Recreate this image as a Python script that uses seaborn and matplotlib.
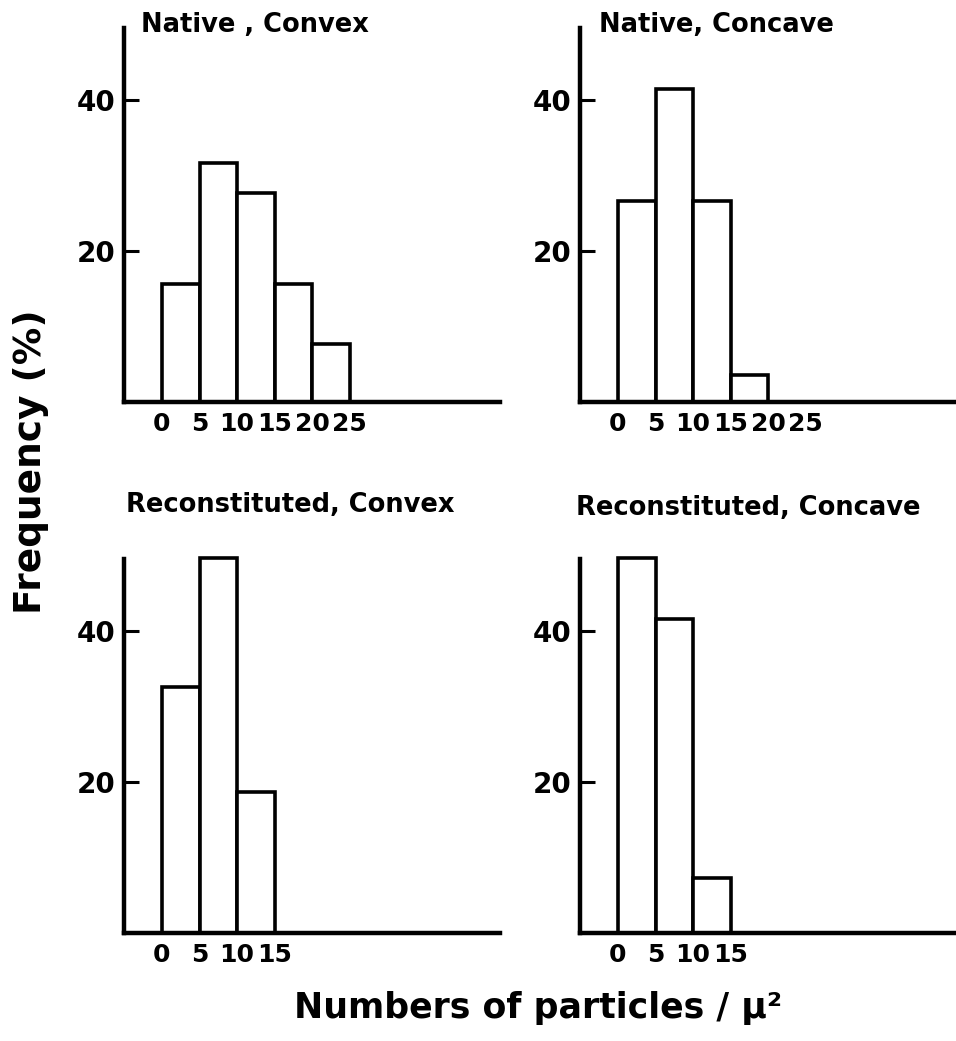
import numpy as np
import pandas as pd
import matplotlib
matplotlib.use("Agg")
import matplotlib.pyplot as plt
import seaborn as sns

# ---- data (percent frequency per bin of 5 particles/μ²) ----
native_ticks = [0, 5, 10, 15, 20, 25]
recon_ticks = [0, 5, 10, 15]

native_convex = [15.6, 31.6, 27.6, 15.6, 7.7]
native_concave = [26.6, 41.4, 26.6, 3.6]
recon_convex = [32.5, 49.6, 18.7]
recon_concave = [49.6, 41.6, 7.3]

titles = ["Native , Convex", "Native, Concave",
          "Reconstituted, Convex", "Reconstituted, Concave"]
y_ticks = [20, 40]
xlabel = "Numbers of particles / μ²"
ylabel = "Frequency (%)"

sns.set_theme(style="white")
plt.rcParams["font.family"] = ["DejaVu Sans"]
plt.rcParams["font.weight"] = "bold"

W, H = 956, 1041
fig = plt.figure(figsize=(W / 100, H / 100), dpi=100)
fig.patch.set_facecolor("white")

width = 375.75 / W
height = 374 / H
lefts = [123.75 / W, 579.75 / W]
bottoms = [1 - 402 / H, 1 - 933 / H]

panels = [
    (native_convex, native_ticks, lefts[0], bottoms[0], titles[0], 0.349, 1.008),
    (native_concave, native_ticks, lefts[1], bottoms[0], titles[1], 0.365, 1.008),
    (recon_convex, recon_ticks, lefts[0], bottoms[1], titles[2], 0.442, 1.144),
    (recon_concave, recon_ticks, lefts[1], bottoms[1], titles[3], 0.448, 1.136),
]

for vals, ticks, l, b, title, tx, ty in panels:
    ax = fig.add_axes([l, b, width, height])
    n = len(vals)
    edges = [float(t) for t in ticks[: n + 1]]
    centers = [(edges[i] + edges[i + 1]) / 2 for i in range(n)]
    df = pd.DataFrame({"x": centers, "w": vals})
    sns.histplot(data=df, x="x", weights="w", bins=edges, stat="count",
                 color="white", edgecolor="black", linewidth=2.6,
                 alpha=1, ax=ax)
    for p in ax.patches:
        p.set_clip_on(False)
    ax.set_xlim(-5.1, 45)
    ax.set_ylim(0, 49.5)
    ax.set_facecolor("white")
    for s in ["top", "right"]:
        ax.spines[s].set_visible(False)
    for s in ["left", "bottom"]:
        ax.spines[s].set_color("black")
        ax.spines[s].set_linewidth(3.2)
    ax.set_yticks(y_ticks)
    ax.set_yticklabels([str(v) for v in y_ticks])
    ax.set_xticks(ticks)
    ax.set_xticklabels([str(v) for v in ticks])
    ax.tick_params(axis="y", direction="in", length=11, width=2.2,
                   color="black", labelcolor="black", pad=6, labelsize=20,
                   left=True)
    ax.tick_params(axis="x", length=0, pad=7, labelsize=18,
                   labelcolor="black", bottom=True)
    ax.set_xlabel("")
    ax.set_ylabel("")
    ax.text(tx, ty, title, transform=ax.transAxes, ha="center", va="center",
            fontsize=18.5, fontweight="bold", color="black")

fig.text(538 / W, 1 - 1008 / H, xlabel, ha="center", va="center",
         fontsize=25, fontweight="bold", color="black")
fig.text(31 / W, 1 - 462 / H, ylabel, ha="center", va="center",
         rotation=90, fontsize=27, fontweight="bold", color="black")

fig.savefig("out.png", dpi=100, facecolor="white")
